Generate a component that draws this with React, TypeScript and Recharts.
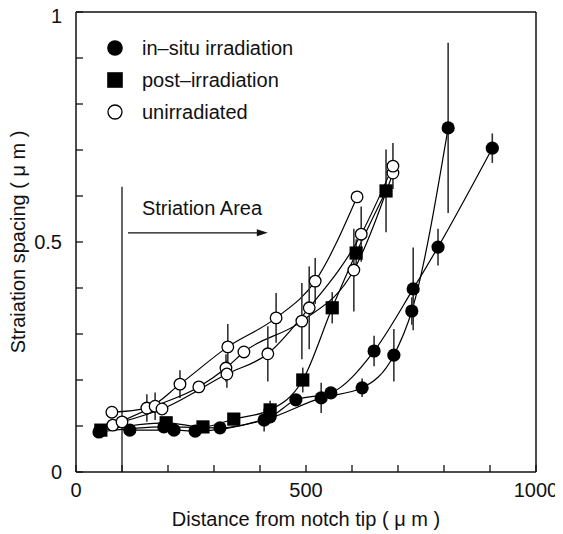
import React from "react";
import { ComposedChart, Line, XAxis, YAxis, ErrorBar, ReferenceLine, Legend } from "recharts";

const FONT = '"Liberation Sans", Arial, Helvetica, sans-serif';

// x ticks (distance, um) and y ticks (spacing, um)
const xTicks = [0, 100, 200, 300, 400, 500, 600, 700, 800, 900, 1000];
const xLabels = [0, 500, 1000];
const yTicks = [0, 0.1, 0.2, 0.3, 0.4, 0.5, 0.6, 0.7, 0.8, 0.9, 1];
const yLabels = [0, 0.5, 1];

// in-situ irradiation, specimen A
const insituAX = [50, 191, 313, 409, 533, 622, 691, 730, 809];
const insituAY = [0.087, 0.098, 0.096, 0.113, 0.161, 0.183, 0.254, 0.35, 0.748];
const insituAErr = [0, 0, 0, 0.025, 0.033, 0.02, 0.057, 0.03, 0.185];

// in-situ irradiation, specimen B
const insituBX = [117, 213, 259, 422, 478, 554, 648, 733, 787, 905];
const insituBY = [0.091, 0.091, 0.089, 0.12, 0.157, 0.172, 0.263, 0.398, 0.489, 0.704];
const insituBErr = [0, 0, 0, 0.01, 0.01, 0.01, 0.033, 0.09, 0.04, 0.032];

// post-irradiation
const postX = [54, 196, 276, 343, 422, 493, 557, 609, 674];
const postY = [0.091, 0.107, 0.098, 0.115, 0.135, 0.2, 0.357, 0.476, 0.611];
const postErr = [0, 0.01, 0, 0.01, 0.02, 0.027, 0.034, 0.03, 0.09];

// unirradiated, three specimens
const unirr1X = [78, 154, 226, 330, 435, 520, 611];
const unirr1Y = [0.13, 0.139, 0.191, 0.272, 0.335, 0.415, 0.598];
const unirr1Err = [0, 0.03, 0.03, 0.05, 0.054, 0.05, 0];

const unirr2X = [80, 172, 267, 326, 365, 491, 604, 689];
const unirr2Y = [0.102, 0.143, 0.185, 0.226, 0.261, 0.328, 0.439, 0.65];
const unirr2Err = [0, 0.03, 0, 0.03, 0, 0.083, 0.09, 0];

const unirr3X = [100, 187, 328, 417, 507, 620, 689];
const unirr3Y = [0.109, 0.137, 0.213, 0.257, 0.357, 0.517, 0.665];
const unirr3Err = [0, 0, 0.03, 0.06, 0.09, 0.06, 0.05];

const legendItems = ["in\u2013situ irradiation", "post\u2013irradiation", "unirradiated"];

const build = (xs: number[], ys: number[], es: number[]) =>
  xs.map((x, i) => ({ x, y: ys[i], err: es[i] }));

const series = [
  { key: "insituA", data: build(insituAX, insituAY, insituAErr), mark: "filled" },
  { key: "insituB", data: build(insituBX, insituBY, insituBErr), mark: "filled" },
  { key: "post", data: build(postX, postY, postErr), mark: "square" },
  { key: "unirr1", data: build(unirr1X, unirr1Y, unirr1Err), mark: "open" },
  { key: "unirr2", data: build(unirr2X, unirr2Y, unirr2Err), mark: "open" },
  { key: "unirr3", data: build(unirr3X, unirr3Y, unirr3Err), mark: "open" },
];

function Marker({ mark, cx, cy, big }: { mark: string; cx: number; cy: number; big?: boolean }) {
  const r = big ? 7.8 : 6.6;
  if (mark === "square") {
    return <rect x={cx - r} y={cy - r} width={r * 2} height={r * 2} fill="#000" />;
  }
  if (mark === "open") {
    return <circle cx={cx} cy={cy} r={r - 0.8} fill="#fff" stroke="#000" strokeWidth={1.3} />;
  }
  return <circle cx={cx} cy={cy} r={r} fill="#000" />;
}

const makeDot = (mark: string) => (p: any) => (
  <Marker key={`${mark}-${p.index}`} mark={mark} cx={p.cx} cy={p.cy} />
);

const tickStroke = { stroke: "#111", strokeWidth: 1.3 };

const BottomTick = ({ x, y, payload }: any) => (
  <g>
    <line x1={x} y1={y} x2={x} y2={y - 7} {...tickStroke} />
    {xLabels.includes(payload.value) && (
      <text x={x} y={y + 25} textAnchor="middle" fontSize={20} fontFamily={FONT} fill="#111">
        {payload.value}
      </text>
    )}
  </g>
);

const TopTick = ({ x, y }: any) => <line x1={x} y1={y} x2={x} y2={y + 7} {...tickStroke} />;

const LeftTick = ({ x, y, payload }: any) => (
  <g>
    <line x1={x} y1={y} x2={x + 7} y2={y} {...tickStroke} />
    {yLabels.includes(payload.value) && (
      <text
        x={x - 14}
        y={payload.value === 1 ? y + 4 : y}
        dy="0.36em"
        textAnchor="end"
        fontSize={20}
        fontFamily={FONT}
        fill="#111"
      >
        {payload.value}
      </text>
    )}
  </g>
);

const RightTick = ({ x, y }: any) => <line x1={x} y1={y} x2={x - 7} y2={y} {...tickStroke} />;

const ArrowShape = (p: any) => (
  <g>
    <line x1={p.x1} y1={p.y1} x2={p.x2 - 8} y2={p.y2} stroke="#111" strokeWidth={1.3} />
    <polygon
      points={`${p.x2},${p.y2} ${p.x2 - 11},${p.y2 - 3.5} ${p.x2 - 11},${p.y2 + 3.5}`}
      fill="#111"
    />
    <text x={p.x1 + 14} y={p.y1 - 18} fontSize={20} fontFamily={FONT} fill="#111">
      Striation Area
    </text>
  </g>
);

const LegendBox = () => (
  <svg width={320} height={140} style={{ display: "block" }}>
    {legendItems.map((label, i) => (
      <g key={label}>
        <Marker mark={["filled", "square", "open"][i]} cx={107} cy={48 + i * 32} big />
        <text x={134} y={48 + i * 32} dy="0.36em" fontSize={20} fontFamily={FONT} fill="#111">
          {label}
        </text>
      </g>
    ))}
  </svg>
);

export default function App() {
  return (
    <div style={{ marginTop: -8, width: 555, height: 534 }}>
      <ComposedChart
        width={555}
        height={534}
        margin={{ top: 11, right: 26, bottom: 0, left: 0 }}
        style={{ fontFamily: FONT }}
      >
        <XAxis
          xAxisId="b"
          dataKey="x"
          type="number"
          domain={[0, 1000]}
          ticks={xTicks}
          interval={0}
          height={62}
          tickSize={0}
          tickMargin={0}
          tick={<BottomTick />}
          axisLine={{ stroke: "#111", strokeWidth: 1.5 }}
          label={{
            value: "Distance from notch tip ( \u03bc m )",
            position: "insideBottom",
            offset: 8,
            fontSize: 20,
            fill: "#111",
          }}
        />
        <XAxis
          xAxisId="t"
          orientation="top"
          dataKey="x"
          type="number"
          domain={[0, 1000]}
          ticks={xTicks}
          interval={0}
          height={1}
          tickSize={0}
          tickMargin={0}
          tick={<TopTick />}
          axisLine={{ stroke: "#111", strokeWidth: 1.5 }}
        />
        <YAxis
          yAxisId="l"
          type="number"
          domain={[0, 1]}
          ticks={yTicks}
          interval={0}
          width={68}
          tickSize={0}
          tickMargin={0}
          tick={<LeftTick />}
          axisLine={{ stroke: "#111", strokeWidth: 1.5 }}
          label={{
            value: "Straiation spacing ( \u03bc m )",
            angle: -90,
            position: "insideLeft",
            offset: 10,
            fontSize: 20,
            fill: "#111",
            style: { textAnchor: "middle" },
          }}
        />
        <YAxis
          yAxisId="r"
          orientation="right"
          type="number"
          domain={[0, 1]}
          ticks={yTicks}
          interval={0}
          width={1}
          tickSize={0}
          tickMargin={0}
          tick={<RightTick />}
          axisLine={{ stroke: "#111", strokeWidth: 1.5 }}
        />

        <ReferenceLine
          xAxisId="b"
          yAxisId="l"
          segment={[{ x: 100, y: 0 }, { x: 100, y: 0.62 }]}
          stroke="#333"
          strokeWidth={1.5}
          ifOverflow="visible"
        />
        <ReferenceLine
          xAxisId="b"
          yAxisId="l"
          segment={[{ x: 113, y: 0.52 }, { x: 417, y: 0.52 }]}
          shape={ArrowShape}
          ifOverflow="visible"
        />

        {series.map((s) => (
          <Line
            key={s.key}
            xAxisId="b"
            yAxisId="l"
            data={s.data}
            dataKey="y"
            type="monotone"
            stroke="#000"
            strokeWidth={1.2}
            dot={makeDot(s.mark)}
            activeDot={false}
            legendType="none"
            isAnimationActive={false}
          >
            <ErrorBar dataKey="err" direction="y" width={0} stroke="#333" strokeWidth={1.6} />
          </Line>
        ))}

        <Legend
          layout="vertical"
          align="center"
          verticalAlign="middle"
          content={() => <LegendBox />}
          wrapperStyle={{ position: "absolute", left: 0, top: 0, width: 320, height: 140 }}
        />
      </ComposedChart>
    </div>
  );
}
